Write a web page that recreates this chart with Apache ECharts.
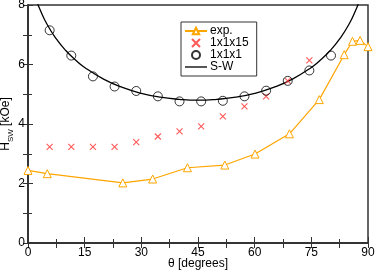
<!DOCTYPE html>
<html><head><meta charset="utf-8">
<script src="https://cdn.jsdelivr.net/npm/echarts@6/dist/echarts.min.js"></script>
<style>html,body{margin:0;padding:0;background:#fff}#c{width:376px;height:272px}</style>
</head><body><div id="c"></div>
<script>
// exp. (orange triangles)
const expTheta = [0, 5.1, 25.1, 33.0, 42.2, 52.1, 60.1, 69.2, 77.1, 83.7, 85.9, 87.9, 90];
const expH     = [2.44, 2.33, 2.02, 2.15, 2.53, 2.62, 2.99, 3.67, 4.82, 6.33, 6.78, 6.81, 6.6];
// 1x1x15 (red crosses)
const m15Theta = [5.73, 11.46, 17.19, 22.92, 28.65, 34.38, 40.11, 45.84, 51.57, 57.30, 63.03, 68.75, 74.48];
const m15H     = [3.23, 3.23, 3.23, 3.23, 3.39, 3.58, 3.75, 3.92, 4.26, 4.59, 4.93, 5.45, 6.14];
// 1x1x1 (open circles)
const m1Theta = [5.73, 11.46, 17.19, 22.92, 28.65, 34.38, 40.11, 45.84, 51.57, 57.30, 63.03, 68.75, 74.48, 80.21];
const m1H     = [7.15, 6.30, 5.60, 5.26, 5.11, 4.93, 4.76, 4.76, 4.78, 4.93, 5.12, 5.45, 5.80, 6.30];
const swTheta = [2.5, 3, 5, 7.5, 10, 12.5, 15, 20, 25, 30, 35, 40, 45, 50, 55, 60, 65, 70, 75, 77.5, 80, 82.5, 85, 87, 87.5];
const swH     = [8.06, 7.90, 7.36, 6.86, 6.47, 6.16, 5.90, 5.51, 5.23, 5.03, 4.90, 4.83, 4.80, 4.83, 4.90, 5.03, 5.23, 5.51, 5.90, 6.16, 6.47, 6.86, 7.36, 7.90, 8.06];

const zip = (a, b) => a.map((v, i) => [v, b[i]]);
const axisCol = '#333';
const font = 'Liberation Sans, Arial, sans-serif';
const clear = 'rgba(0,0,0,0)';
const chart = echarts.init(document.getElementById('c'), null, {renderer: 'canvas'});
chart.setOption({
  animation: false,
  grid: {left: 28, right: 8, top: 5, bottom: 29, containLabel: false, outerBoundsMode: 'none',
         show: true, borderColor: axisCol, borderWidth: 1.5, backgroundColor: 'transparent'},
  legend: {
    orient: 'vertical', left: 181, top: 22,
    padding: [3, 8, 3, 3], itemGap: 0, itemWidth: 22, itemHeight: 8,
    borderColor: axisCol, borderWidth: 1, backgroundColor: '#fff',
    textStyle: {fontFamily: font, fontSize: 12, color: '#000', lineHeight: 11.5, padding: [0, 0, 0, -2]},
    data: [
      {name: 'exp.'},
      {name: '1x1x15'},
      {name: '1x1x1'},
      {name: 'S-W', icon: 'path://M0,0L20,0L20,1.2L0,1.2Z', itemStyle: {color: '#000'}}
    ]
  },
  xAxis: [{
    type: 'value', min: 0, max: 90, interval: 15, position: 'bottom',
    name: 'θ [degrees]', nameLocation: 'middle', nameGap: 15, nameMoveOverlap: false,
    nameTextStyle: {fontFamily: font, fontSize: 12, color: '#000'},
    axisLine: {show: true, lineStyle: {color: axisCol, width: 1.5}},
    axisTick: {inside: true, length: 6, lineStyle: {color: axisCol}},
    minorTick: {show: true, splitNumber: 2, length: 4, lineStyle: {color: axisCol}},
    axisLabel: {fontFamily: font, fontSize: 12, color: '#000', margin: 4},
    splitLine: {show: false}
  }, {
    type: 'value', min: 0, max: 90, interval: 7.5, position: 'top',
    axisLine: {show: true, lineStyle: {color: axisCol, width: 1.5}},
    axisTick: {inside: true, length: 5, lineStyle: {color: axisCol}},
    axisLabel: {show: false}, splitLine: {show: false}
  }],
  yAxis: [{
    type: 'value', min: 0, max: 8, interval: 2, position: 'left',
    name: '{a|H}{s|SW}{a| [kOe]}', nameLocation: 'middle', nameGap: 13, nameMoveOverlap: false,
    nameTextStyle: {fontFamily: font, color: '#000',
      rich: {a: {fontFamily: font, fontSize: 12, color: '#000', verticalAlign: 'bottom', padding: [0, 0, 3, 0]},
             s: {fontFamily: font, fontSize: 8, color: '#000', verticalAlign: 'bottom'}}},
    axisLine: {show: true, lineStyle: {color: axisCol, width: 1.5}},
    axisTick: {inside: true, length: 5, lineStyle: {color: axisCol}},
    minorTick: {show: true, splitNumber: 2, length: 4, lineStyle: {color: axisCol}},
    axisLabel: {fontFamily: font, fontSize: 12, color: '#000', margin: 3},
    splitLine: {show: false}
  }, {
    type: 'value', min: 0, max: 8, interval: 1, position: 'right',
    axisLine: {show: true, lineStyle: {color: axisCol, width: 1.5}},
    axisTick: {inside: true, length: 5, lineStyle: {color: axisCol}},
    axisLabel: {show: false}, splitLine: {show: false}
  }],
  series: [{
    name: 'S-W', type: 'line', smooth: true, data: zip(swTheta, swH), showSymbol: false, symbol: 'none',
    lineStyle: {color: '#000', width: 1.3}, itemStyle: {color: '#000'}, clip: true, z: 2
  }, {
    name: 'exp.', type: 'line', data: zip(expTheta, expH), symbol: 'triangle', symbolSize: 8,
    lineStyle: {color: '#FFA500', width: 1.2}, itemStyle: {color: '#fff', borderColor: '#FFA500', borderWidth: 1}, clip: true, z: 3
  }, {
    name: '1x1x15', type: 'scatter', data: zip(m15Theta, m15H), symbol: 'path://M0,0L10,10M10,0L0,10', symbolSize: 6,
    itemStyle: {color: clear, borderColor: '#FF3030', borderWidth: 1.1}, z: 4
  }, {
    name: '1x1x1', type: 'scatter', data: zip(m1Theta, m1H), symbol: 'circle', symbolSize: 9,
    itemStyle: {color: clear, borderColor: '#000', borderWidth: 1}, z: 5
  }]
});
</script></body></html>
